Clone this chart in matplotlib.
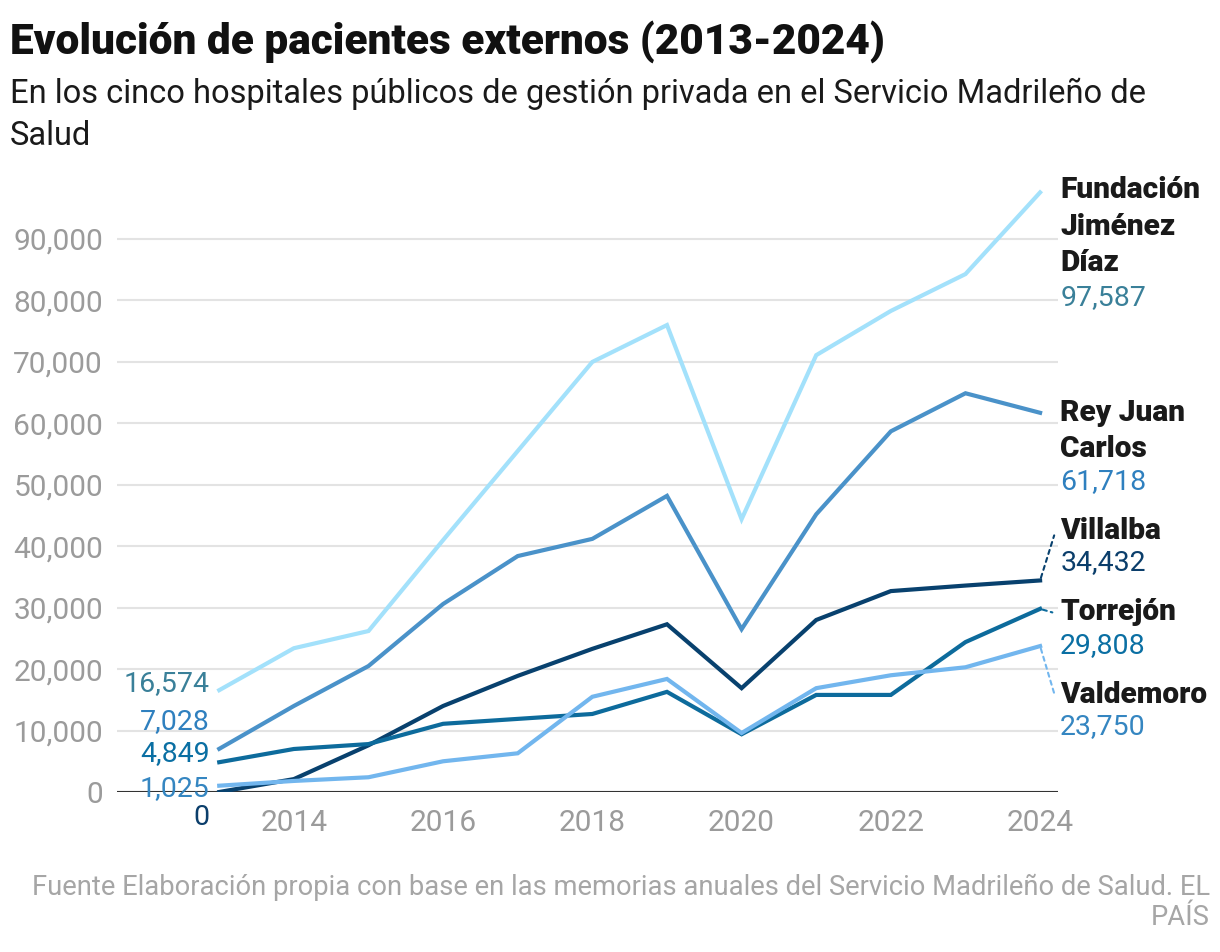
import matplotlib.pyplot as plt
from matplotlib.ticker import FuncFormatter

plt.rcParams['font.family'] = ['Roboto', 'DejaVu Sans']

# datos
years = list(range(2013, 2025))
fundacion = [16574, 23400, 26200, 41000, 55500, 70000, 76000, 44400, 71100, 78300, 84300, 97587]
rey_juan = [7028, 14000, 20500, 30600, 38400, 41200, 48200, 26500, 45200, 58700, 64900, 61718]
villalba = [0, 2100, 7600, 14000, 18900, 23300, 27300, 16900, 28000, 32700, 33600, 34432]
torrejon = [4849, 7000, 7800, 11100, 11900, 12700, 16300, 9400, 15800, 15800, 24400, 29808]
valdemoro = [1025, 1800, 2400, 5000, 6300, 15500, 18400, 9600, 16900, 19000, 20300, 23750]

names = ["Fundación\nJiménez\nDíaz", "Rey Juan\nCarlos", "Villalba", "Torrejón", "Valdemoro"]
series = [fundacion, rey_juan, villalba, torrejon, valdemoro]
line_colors = ['#a3e1fb', '#4a92c9', '#08416e', '#0d6b9c', '#72b6ee']
text_colors = ['#3a8099', '#2f80bf', '#0b3e6b', '#0a6fa3', '#3586c1']

# posiciones de etiquetas (datos)
name_top = [100200, 64000, 44700, 31600, 18100]
value_y = [80400, 50600, 37300, 23900, 10600]
left_y = [17700, 11500, 6200, 500]

fig = plt.figure(figsize=(12.2, 9.52), dpi=100)
ax = fig.add_axes([117 / 1220, 1 - 792 / 952, (1058 - 117) / 1220, (792 - 177.6) / 952])

for vals, c in zip(series, line_colors):
    ax.plot(years, vals, color=c, lw=3, solid_joinstyle='miter', zorder=3)

ax.set_xlim(2011.63, 2024.24)
ax.set_ylim(0, 100000)
ax.set_yticks(range(0, 100000, 10000))
ax.yaxis.set_major_formatter(FuncFormatter(lambda v, p: f"{int(v):,}"))
ax.set_xticks(range(2014, 2025, 2))
ax.tick_params(length=0, labelsize=21.5, colors='#9b9b9b')
ax.tick_params(axis='y', pad=10)
ax.tick_params(axis='x', pad=12)
ax.grid(axis='y', color='#e3e3e3', lw=1.5)
ax.set_axisbelow(True)
for s in ax.spines.values():
    s.set_visible(False)
ax.axhline(0, color='#333333', lw=1.5, zorder=2)

# etiquetas derecha
for i, (nm, vals) in enumerate(zip(names, series)):
    ax.text(2024.27, name_top[i], nm, fontsize=21.5, fontweight='heavy', color='#1a1a1a',
            va='top', ha='left', linespacing=1.38, clip_on=False)
    ax.text(2024.27, value_y[i], f"{vals[-1]:,}", fontsize=20.5, color=text_colors[i],
            va='center', ha='left', clip_on=False)

# lineas punteadas de conexion
for i in [2, 3, 4]:
    ax.annotate('', xy=(2024.2, name_top[i] - 2500), xytext=(2024, series[i][-1]),
                arrowprops=dict(arrowstyle='-', color=line_colors[i], lw=1.5, ls=(0, (2, 2))),
                annotation_clip=False)

# etiquetas izquierda
order = [0, 1, 3, 4]
for y, i in zip(left_y, order):
    ax.text(2012.87, y, f"{series[i][0]:,}", fontsize=20.5, color=text_colors[i],
            va='center', ha='right', clip_on=False)
ax.text(2012.87, -4200, f"{villalba[0]:,}", fontsize=20.5, color=text_colors[2],
        va='center', ha='right', clip_on=False)

fig.text(10 / 1220, 1 - 20 / 952, "Evolución de pacientes externos (2013-2024)",
         fontsize=30.5, fontweight='heavy', color='#111111', va='top', ha='left')
fig.text(10 / 1220, 1 - 78 / 952,
         "En los cinco hospitales públicos de gestión privada en el Servicio Madrileño de\nSalud",
         fontsize=23.5, color='#1a1a1a', va='top', ha='left', linespacing=1.4)
fig.text(1210 / 1220, 1 - 874 / 952,
         "Fuente Elaboración propia con base en las memorias anuales del Servicio Madrileño de Salud. EL\nPAÍS",
         fontsize=19.7, color='#a6a6a6', va='top', ha='right', multialignment='right', linespacing=1.15)

fig.savefig("out.png", dpi=100)
